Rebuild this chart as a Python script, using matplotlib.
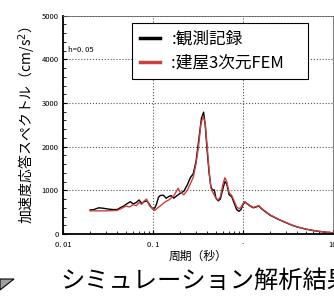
import matplotlib
matplotlib.use("Agg")
import matplotlib.pyplot as plt
from matplotlib.patches import Polygon

plt.rcParams['font.family'] = ['Noto Sans CJK JP', 'DejaVu Sans']

# 観測記録 (black)
period_obs = [0.02, 0.022, 0.025, 0.028, 0.032, 0.036, 0.04, 0.044, 0.048, 0.052,
              0.056, 0.06, 0.065, 0.07, 0.075, 0.08, 0.085, 0.09, 0.095, 0.1,
              0.105, 0.11, 0.115, 0.12, 0.13, 0.14, 0.15, 0.16, 0.17, 0.18,
              0.2, 0.22, 0.24, 0.26, 0.28, 0.3, 0.32, 0.345, 0.365, 0.38,
              0.4, 0.42, 0.44, 0.46, 0.48, 0.5, 0.53, 0.56, 0.6, 0.63,
              0.66, 0.7, 0.75, 0.8, 0.85, 0.9, 0.95, 1.0, 1.05, 1.1,
              1.2, 1.3, 1.4, 1.5, 1.6, 1.8, 2.0, 2.5, 3.0, 3.5,
              4.0, 5.0, 6.0, 7.0, 8.0, 10.0]
sa_obs = [550, 560, 600, 590, 570, 560, 560, 610, 650, 700,
          740, 690, 720, 780, 700, 740, 760, 700, 620, 570,
          600, 700, 840, 880, 890, 820, 860, 880, 820, 860,
          930, 980, 1120, 1290, 1380, 1650, 2100, 2650, 2790, 2500,
          1900, 1400, 1080, 1000, 1010, 820, 760, 800, 1050, 1200,
          1150, 900, 850, 700, 560, 520, 560, 680, 730, 700,
          640, 600, 620, 640, 580, 500, 430, 330, 260, 200,
          160, 110, 80, 60, 45, 25]

# 建屋3次元FEM (red)
period_fem = [0.02, 0.025, 0.03, 0.035, 0.04, 0.045, 0.05, 0.055, 0.06, 0.065,
              0.07, 0.075, 0.08, 0.085, 0.088, 0.092, 0.1, 0.105, 0.11, 0.12,
              0.13, 0.14, 0.15, 0.16, 0.17, 0.18, 0.19, 0.2, 0.22, 0.24,
              0.26, 0.28, 0.3, 0.32, 0.34, 0.36, 0.38, 0.4, 0.42, 0.44,
              0.46, 0.5, 0.53, 0.56, 0.6, 0.63, 0.66, 0.7, 0.75, 0.8,
              0.85, 0.9, 0.95, 1.0, 1.05, 1.1, 1.2, 1.3, 1.4, 1.5,
              1.6, 1.8, 2.0, 2.5, 3.0, 3.5, 4.0, 5.0, 6.0, 7.0,
              8.0, 10.0]
sa_fem = [530, 530, 530, 535, 540, 590, 640, 620, 670, 650,
          720, 680, 760, 800, 720, 640, 580, 540, 580, 640,
          700, 750, 780, 830, 870, 960, 1050, 960, 900, 1000,
          1150, 1300, 1600, 2000, 2500, 2700, 2550, 2000, 1450, 1050,
          960, 820, 780, 850, 1150, 1290, 1200, 950, 880, 750,
          620, 580, 610, 700, 740, 700, 650, 610, 630, 650,
          590, 510, 440, 335, 265, 205, 165, 112, 82, 62,
          46, 26]

x_ticks = [0.01, 0.1, 1, 10]
x_ticklabels = ['0. 01', '0. 1', '·', '10']
y_ticks = [0, 1000, 2000, 3000, 4000, 5000]

fig = plt.figure(figsize=(3.34, 3.05), dpi=100)
ax = fig.add_axes([63 / 334, 71 / 305, 270 / 334, 218.3 / 305])

ax.plot(period_obs, sa_obs, color='black', lw=1.0, label=':観測記録')
ax.plot(period_fem, sa_fem, color='#c8413f', lw=1.0, label=':建屋3次元FEM　')

ax.set_xscale('log')
ax.set_xlim(0.01, 10)
ax.set_ylim(0, 5000)
ax.set_xticks(x_ticks)
ax.set_xticklabels(x_ticklabels)
ax.set_yticks(y_ticks)
ax.set_yticks(range(0, 5001, 200), minor=True)
ax.tick_params(which='both', direction='in', labelsize=5.5)
ax.tick_params(axis='x', pad=5)
ax.tick_params(axis='y', pad=3)
ax.tick_params(which='major', length=3)
ax.tick_params(which='minor', length=2)
ax.grid(True, which='major', color='#555555', linestyle=':', linewidth=0.8)

for side in ['left', 'bottom']:
    ax.spines[side].set_linewidth(1.3)
for side in ['top', 'right']:
    ax.spines[side].set_linewidth(0.6)
    ax.spines[side].set_color('#666666')

ax.set_xlabel('周期（秒）', fontsize=8.5, labelpad=1)
ax.set_ylabel('加速度応答スペクトル（cm/s$^2$）', fontsize=10, labelpad=3)

ax.text(0.02, 0.835, 'h=0. 05', transform=ax.transAxes, fontsize=5.5)

leg = ax.legend(loc='upper left', bbox_to_anchor=(0.256, 0.967), fontsize=12,
                frameon=True, fancybox=False, edgecolor='black', framealpha=1,
                handlelength=1.2, handletextpad=0.7, borderpad=0.45,
                labelspacing=0.45, borderaxespad=0)
leg.get_frame().set_linewidth(0.8)
for line in leg.get_lines():
    line.set_linewidth(2.5)

fig.text(60 / 334, 1 - 281 / 305, 'シミュレーション解析結果', fontsize=17.5,
         va='center', ha='left')

tri = Polygon([[0, 26 / 305], [14 / 334, 26 / 305], [0, 15 / 305]],
              closed=True, transform=fig.transFigure, facecolor='#a0a0a0',
              edgecolor='black', linewidth=0.8)
fig.patches.append(tri)

fig.savefig('out.png', dpi=100)
